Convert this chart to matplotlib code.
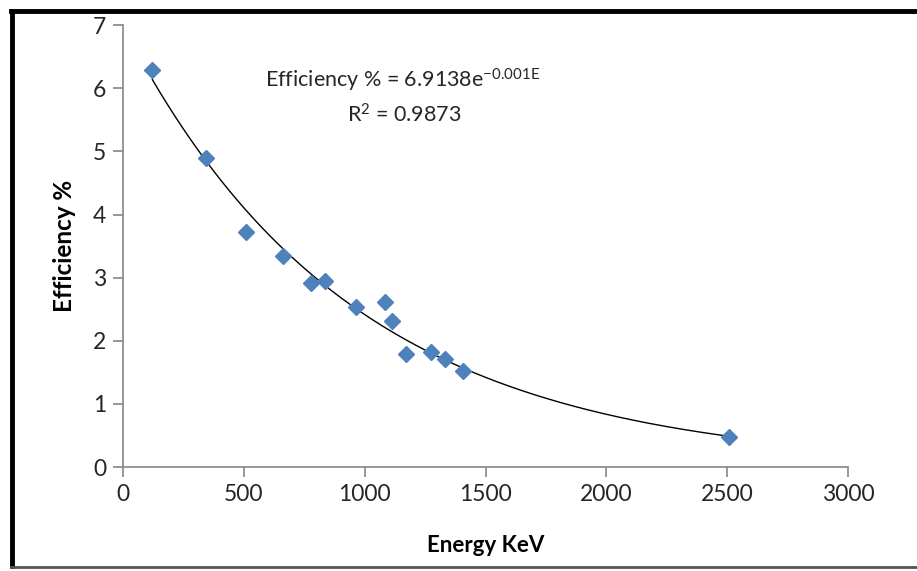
import numpy as np
import matplotlib.pyplot as plt
from matplotlib.lines import Line2D

# Measured points (gamma line energy vs. detector efficiency)
energy_kev = [122, 344, 511, 662, 779, 834, 964, 1085, 1112, 1173, 1275, 1332, 1408, 2505]
efficiency = [6.29, 4.89, 3.72, 3.35, 2.92, 2.95, 2.53, 2.62, 2.32, 1.79, 1.82, 1.71, 1.52, 0.48]

x_ticks = [0, 500, 1000, 1500, 2000, 2500, 3000]
y_ticks = [0, 1, 2, 3, 4, 5, 6, 7]

plt.rcParams['font.family'] = ['Lato', 'DejaVu Sans']
plt.rcParams['mathtext.default'] = 'regular'

fig = plt.figure(figsize=(9.17, 5.71), dpi=100)
ax = fig.add_axes([0.134, 0.182, 0.791, 0.774])

# exponential trendline fitted like Excel does (least squares on ln y)
b, ln_a = np.polyfit(energy_kev, np.log(efficiency), 1)
xs = np.linspace(min(energy_kev), max(energy_kev), 300)
ax.plot(xs, np.exp(ln_a) * np.exp(b * xs), color='black', lw=1.0, zorder=2)

ax.plot(energy_kev, efficiency, linestyle='none', marker='D', markersize=8,
        color='#4F81BD', markeredgecolor='#4F81BD', zorder=3)

ax.set_xlim(0, 3000)
ax.set_ylim(0, 7)
ax.set_xticks(x_ticks)
ax.set_yticks(y_ticks)

for side in ['top', 'right']:
    ax.spines[side].set_visible(False)
for side in ['left', 'bottom']:
    ax.spines[side].set_color('#868686')
    ax.spines[side].set_linewidth(1.2)
ax.tick_params(axis='both', colors='#868686', length=7, width=1.2,
               labelsize=16.5, labelcolor='#262626')
ax.tick_params(axis='x', pad=5)
ax.tick_params(axis='y', pad=5)

ax.set_xlabel('Energy KeV', fontsize=16, fontweight='bold', labelpad=22)
ax.set_ylabel('Efficiency %', fontsize=17.5, fontweight='bold', labelpad=12)

ax.text(0.386, 0.876, 'Efficiency % = 6.9138e$^{-0.001E}$', transform=ax.transAxes,
        fontsize=15.5, ha='center', va='center', color='#262626')
ax.text(0.388, 0.796, 'R$^2$ = 0.9873', transform=ax.transAxes,
        fontsize=15.5, ha='center', va='center', color='#262626')

# thick frame around the chart area (the right side is cut off)
fig.add_artist(Line2D([0.012, 1.0], [0.981, 0.981], color='black', lw=3.5,
                      transform=fig.transFigure))
fig.add_artist(Line2D([0.013, 0.013], [0.981, 0.008], color='black', lw=3.5,
                      transform=fig.transFigure))
fig.add_artist(Line2D([0.012, 1.0], [0.007, 0.007], color='#555555', lw=2,
                      transform=fig.transFigure))

fig.savefig('out.png', dpi=100)
